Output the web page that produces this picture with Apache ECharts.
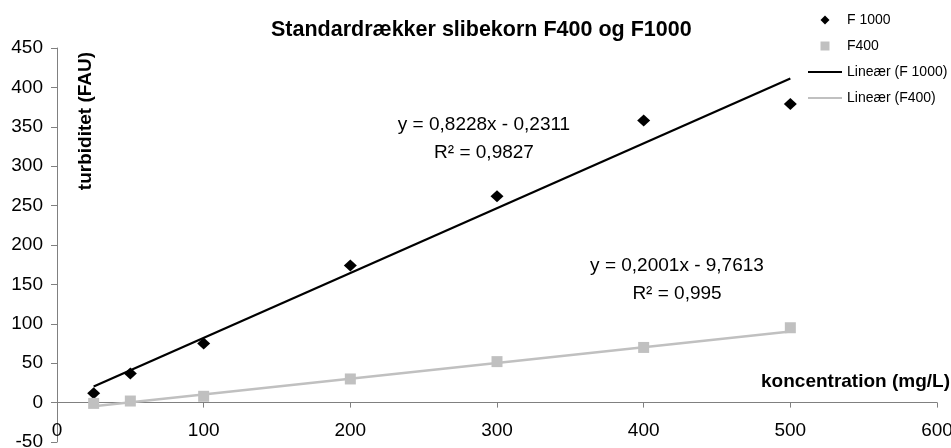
<!DOCTYPE html>
<html>
<head>
<meta charset="utf-8">
<script src="https://cdn.jsdelivr.net/npm/echarts@6/dist/echarts.min.js"></script>
<style>
  html, body { margin: 0; padding: 0; background: #fff; }
  #chart { width: 951px; height: 448px; }
</style>
</head>
<body>
<div id="chart"></div>
<script>
// Calibration data: concentration (mg/L) vs. turbidity (FAU)
const concentrations = [25, 50, 100, 200, 300, 400, 500];
const turbidityF1000 = [12, 37, 75, 174, 262, 358, 379];
const turbidityF400 = [-1, 2, 8, 30, 52, 70, 95];

// Linear fits (slope, intercept, R²)
const fitF1000 = [0.8228, -0.2311, 0.9827];
const fitF400 = [0.2001, -9.7613, 0.995];
const fitRange = [25, 500];

const FONT = "'Liberation Sans', Arial, sans-serif";
const GRAY = '#c0c0c0';
const AXIS = '#808080';
// Legend icons (paths keep their aspect ratio inside the legend box)
const LINE_ICON = 'path://M0,0 L34,0 L34,2 L0,2 Z';
const DIAMOND_ICON = 'path://M5,0 L10,5 L5,10 L0,5 Z';
const SQUARE_ICON = 'path://M0,0 L10,0 L10,10 L0,10 Z';

function points(xs, ys) {
  return xs.map((x, i) => [x, ys[i]]);
}
function fitLine(fit) {
  return fitRange.map(x => [x, fit[0] * x + fit[1]]);
}
function fmt(v, digits) {
  return v.toFixed(digits).replace('.', ',');
}
function equation(fit) {
  const sign = fit[1] < 0 ? ' - ' : ' + ';
  return 'y = ' + fmt(fit[0], 4) + 'x' + sign + fmt(Math.abs(fit[1]), 4);
}

const chart = echarts.init(document.getElementById('chart'), null, { renderer: 'canvas' });

chart.setOption({
  animation: false,
  backgroundColor: '#fff',
  textStyle: { fontFamily: FONT },
  title: {
    text: 'Standardrækker slibekorn F400 og F1000',
    left: 266,
    top: 14,
    textStyle: { fontFamily: FONT, fontSize: 21.5, fontWeight: 'bold', color: '#000' }
  },
  legend: {
    orient: 'vertical',
    left: 808,
    top: 13,
    padding: 0,
    itemWidth: 34,
    itemHeight: 9,
    itemGap: 12,
    symbolKeepAspect: true,
    textStyle: { fontFamily: FONT, fontSize: 14, color: '#000' },
    data: [
      { name: 'F 1000', icon: DIAMOND_ICON },
      { name: 'F400', icon: SQUARE_ICON },
      { name: 'Lineær (F 1000)', icon: LINE_ICON },
      { name: 'Lineær (F400)', icon: LINE_ICON }
    ]
  },
  grid: { left: 57, right: 14, top: 48, bottom: 6, containLabel: false, outerBoundsMode: 'none' },
  xAxis: {
    type: 'value',
    min: 0,
    max: 600,
    interval: 100,
    axisLine: { show: true, onZero: true, lineStyle: { color: AXIS, width: 1 } },
    axisTick: { show: true, length: 5, lineStyle: { color: AXIS } },
    // labels sit just below the zero line, well above the grid's bottom edge
    axisLabel: { margin: -21, fontSize: 19, color: '#000', fontFamily: FONT },
    splitLine: { show: false }
  },
  yAxis: {
    type: 'value',
    min: -50,
    max: 450,
    interval: 50,
    axisLine: { show: true, onZero: false, lineStyle: { color: AXIS, width: 1 } },
    axisTick: { show: true, length: 6, lineStyle: { color: AXIS } },
    axisLabel: { margin: 14, fontSize: 19, color: '#000', fontFamily: FONT },
    splitLine: { show: false }
  },
  series: [
    {
      name: 'Lineær (F 1000)',
      type: 'line',
      data: fitLine(fitF1000),
      symbol: 'none',
      lineStyle: { color: '#000', width: 2.2 },
      itemStyle: { color: '#000' },
      z: 2
    },
    {
      name: 'Lineær (F400)',
      type: 'line',
      data: fitLine(fitF400),
      symbol: 'none',
      lineStyle: { color: GRAY, width: 2.5 },
      itemStyle: { color: GRAY },
      z: 2
    },
    {
      name: 'F 1000',
      type: 'scatter',
      data: points(concentrations, turbidityF1000),
      symbol: 'diamond',
      symbolSize: [13, 12],
      itemStyle: { color: '#000', opacity: 1 },
      z: 3
    },
    {
      name: 'F400',
      type: 'scatter',
      data: points(concentrations, turbidityF400),
      symbol: 'rect',
      symbolSize: 11,
      itemStyle: { color: GRAY, opacity: 1 },
      z: 3
    }
  ],
  graphic: [
    {
      type: 'text',
      x: 86, y: 121, rotation: Math.PI / 2,
      style: {
        text: 'turbiditet (FAU)', fontFamily: FONT, fontSize: 19, fontWeight: 'bold',
        fill: '#000', align: 'center', verticalAlign: 'middle'
      }
    },
    {
      type: 'text',
      x: 950, y: 382,
      style: {
        text: 'koncentration (mg/L)', fontFamily: FONT, fontSize: 19, fontWeight: 'bold',
        fill: '#000', align: 'right', verticalAlign: 'middle'
      }
    },
    {
      type: 'text', x: 484, y: 125,
      style: { text: equation(fitF1000), fontFamily: FONT, fontSize: 19, fill: '#000', align: 'center', verticalAlign: 'middle' }
    },
    {
      type: 'text', x: 484, y: 153,
      style: { text: 'R² = ' + fmt(fitF1000[2], 4), fontFamily: FONT, fontSize: 19, fill: '#000', align: 'center', verticalAlign: 'middle' }
    },
    {
      type: 'text', x: 677, y: 266,
      style: { text: equation(fitF400), fontFamily: FONT, fontSize: 19, fill: '#000', align: 'center', verticalAlign: 'middle' }
    },
    {
      type: 'text', x: 677, y: 294,
      style: { text: 'R² = ' + fmt(fitF400[2], 3), fontFamily: FONT, fontSize: 19, fill: '#000', align: 'center', verticalAlign: 'middle' }
    }
  ]
});
</script>
</body>
</html>
